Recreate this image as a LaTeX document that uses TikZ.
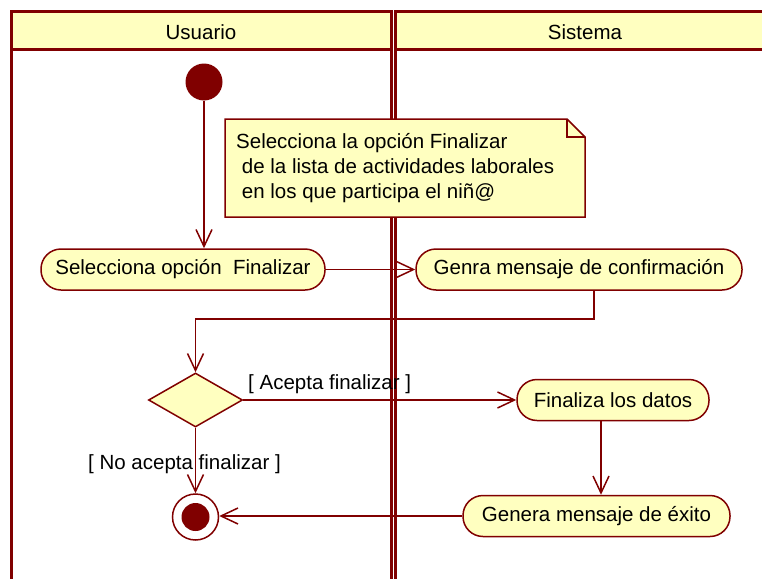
\documentclass[tikz,border=0pt]{standalone}
\usepackage{fontspec}
\setmainfont{Liberation Sans}
\usetikzlibrary{arrows.meta,shapes.geometric}
\definecolor{granate}{RGB}{128,0,0}
\definecolor{crema}{RGB}{255,255,192}

\begin{document}
\begin{tikzpicture}[x=1pt, y=-1pt,
        font=\fontsize{20.5}{25}\selectfont,
        carril/.style={draw=granate, line width=3pt},
        linea/.style={draw=granate, line width=1.5pt},
        accion/.style={linea, fill=crema, rounded corners=20pt, minimum height=41pt, inner sep=0pt},
        flecha/.style={linea, -{Straight Barb[length=17pt, width=16pt]}}]
    \useasboundingbox (0,0) rectangle (762,578);
    \clip (0,0) rectangle (762,578);

    % 泳道
    \draw[carril] (11,12) rectangle (391,600);
    \draw[carril, fill=crema] (11,12) rectangle (391,50);
    \draw[carril] (395.5,12) rectangle (780,600);
    \draw[carril, fill=crema] (395.5,12) rectangle (780,50);
    \node (usuario) at (201,32) {Usuario};
    \node (sistema) at (585,32) {Sistema};

    % 开始节点
    \node[circle, fill=granate, minimum size=37pt, inner sep=0pt] (inicio) at (204,82) {};

    % 注释
    \filldraw[linea, fill=crema] (225,119) -- (567,119) -- (585,137) -- (585,217) -- (225,217) -- cycle;
    \draw[linea] (567,119) -- (567,137) -- (585,137);
    \node[anchor=north west, align=left, inner sep=0pt] (nota) at (236,133)
        {Selecciona la opción Finalizar\\\ de la lista de actividades laborales\\\ en los que participa el niñ@};

    % 活动
    \node[accion, minimum width=284pt] (selecciona) at (183,269.5) {Selecciona opción\ \ Finalizar};
    \node[accion, minimum width=326pt] (confirma) at (579,269.5) {Genra mensaje de confirmación};
    \node[diamond, linea, fill=crema, aspect=1.74, minimum width=94pt, minimum height=54pt, inner sep=0pt] (decision) at (195.5,400) {};
    \node[accion, minimum width=192pt] (finaliza) at (613,400) {Finaliza los datos};
    \node[accion, minimum width=267pt] (exito) at (596.5,516) {Genera mensaje de éxito};

    % 结束节点
    \node[circle, linea, fill=white, minimum size=46pt, inner sep=0pt] (fin) at (195.5,517) {};
    \fill[granate] (fin) circle (14pt);

    % 连线
    \draw[flecha] (inicio) -- (inicio |- selecciona.north);
    \draw[flecha] (selecciona) -- (confirma);
    \draw[flecha] ([xshift=15pt]confirma.south) -- ++(0,28) -| (decision.north);
    \draw[flecha] (decision.east) -- (finaliza.west);
    \draw[flecha] ([xshift=-12pt]finaliza.south) -- ([xshift=-12pt]finaliza.south |- exito.north);
    \draw[flecha] (exito.west) -- (exito.west -| fin.east);
    \draw[flecha] (decision.south) -- (fin.north);

    % 条件标注
    \node[anchor=base west, inner sep=0pt] (acepta) at (248,389) {[ Acepta finalizar ]};
    \node[anchor=base west, inner sep=0pt] (noacepta) at (88,469) {[ No acepta finalizar ]};
\end{tikzpicture}
\end{document}
